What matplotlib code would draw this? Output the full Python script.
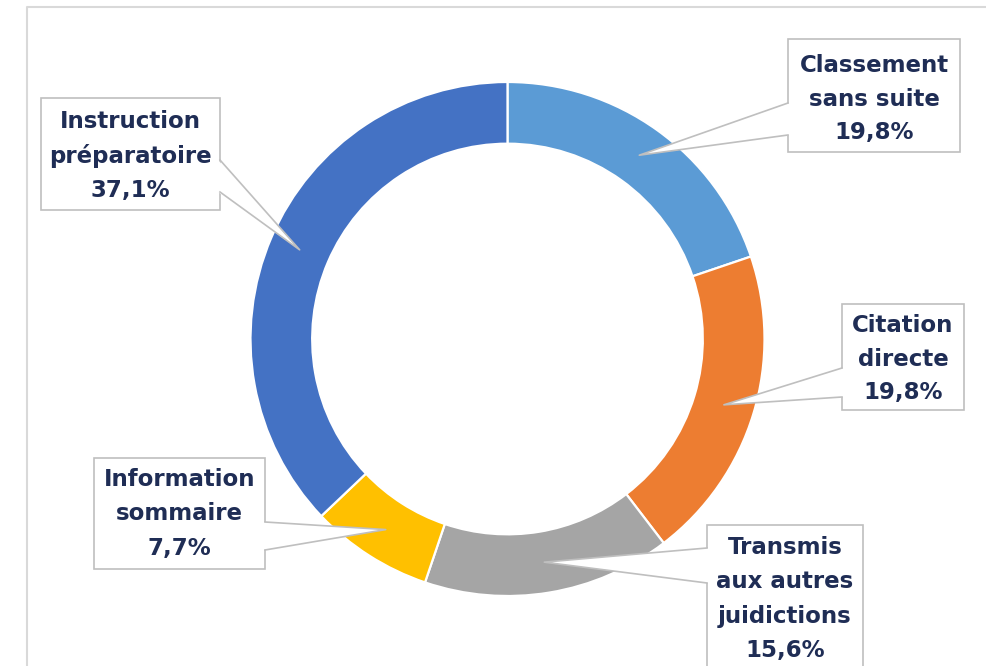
import numpy as np
import matplotlib.pyplot as plt
from matplotlib.patches import Rectangle, Polygon

# data
labels = ["Classement\nsans suite", "Citation\ndirecte",
          "Transmis\naux autres\njuidictions", "Information\nsommaire",
          "Instruction\npréparatoire"]
shares = [19.8, 19.8, 15.6, 7.7, 37.1]
colors = ["#5B9BD5", "#ED7D31", "#A5A5A5", "#FFC000", "#4472C4"]

# callout layout in pixel coords: box (x0, y0, x1, y1), wedge base (x, ya, yb), first line y
boxes = [
    ((788, 39, 960, 152), (788, 103, 135), 65),
    ((842, 304, 964, 410), (842, 368, 397), 325),
    ((707, 525, 863, 700), (707, 548, 583), 548),
    ((94, 458, 265, 569), (265, 522, 550), 480),
    ((41, 98, 220, 210), (220, 160, 192), 122),
]

W, H = 986, 666
cx, cy, R = 507.5, 339, 257
ring = 0.24
txt_col = "#1F2D55"
edge_col = "#BFBFBF"

fig = plt.figure(figsize=(W / 100, H / 100), dpi=100)
ax = fig.add_axes([0, 0, 1, 1])

# y axis inverted, so counterclock in data = clockwise on screen
wedges, _ = ax.pie(shares, colors=colors, startangle=-90, counterclock=True,
                   center=(cx, cy), radius=R,
                   wedgeprops=dict(width=R * ring, edgecolor="white", linewidth=1.6))
ax.set_xlim(0, W)
ax.set_ylim(H, 0)
ax.set_axis_off()

# outer chart frame
ax.plot([27, 27, W], [H, 7, 7], color="#D9D9D9", lw=1.5, zorder=1)

r_tip = R * (1 - ring / 2)
for w, lab, v, (box, base, ly) in zip(wedges, labels, shares, boxes):
    x0, y0, x1, y1 = box
    ax.add_patch(Rectangle((x0, y0), x1 - x0, y1 - y0, facecolor="white",
                           edgecolor=edge_col, lw=1.2, zorder=3))
    mid = np.deg2rad((w.theta1 + w.theta2) / 2)
    tx, ty = cx + r_tip * np.cos(mid), cy + r_tip * np.sin(mid)
    bx, ya, yb = base
    inward = 2 if bx == x0 else -2
    ax.add_patch(Polygon([(bx + inward, ya), (bx + inward, yb), (tx, ty)],
                         closed=True, facecolor="white", edgecolor="none", zorder=4))
    ax.plot([bx, tx, bx], [ya, ty, yb], color=edge_col, lw=1.2, zorder=5)
    lines = lab.split("\n") + [f"{v:.1f}".replace(".", ",") + "%"]
    xc = (x0 + x1) / 2
    for i, s in enumerate(lines):
        ax.text(xc, ly + 34 * i, s, ha="center", va="center", fontsize=16.5,
                fontweight="bold", color=txt_col, family="DejaVu Sans", zorder=6)

fig.savefig("out.png", dpi=100)
